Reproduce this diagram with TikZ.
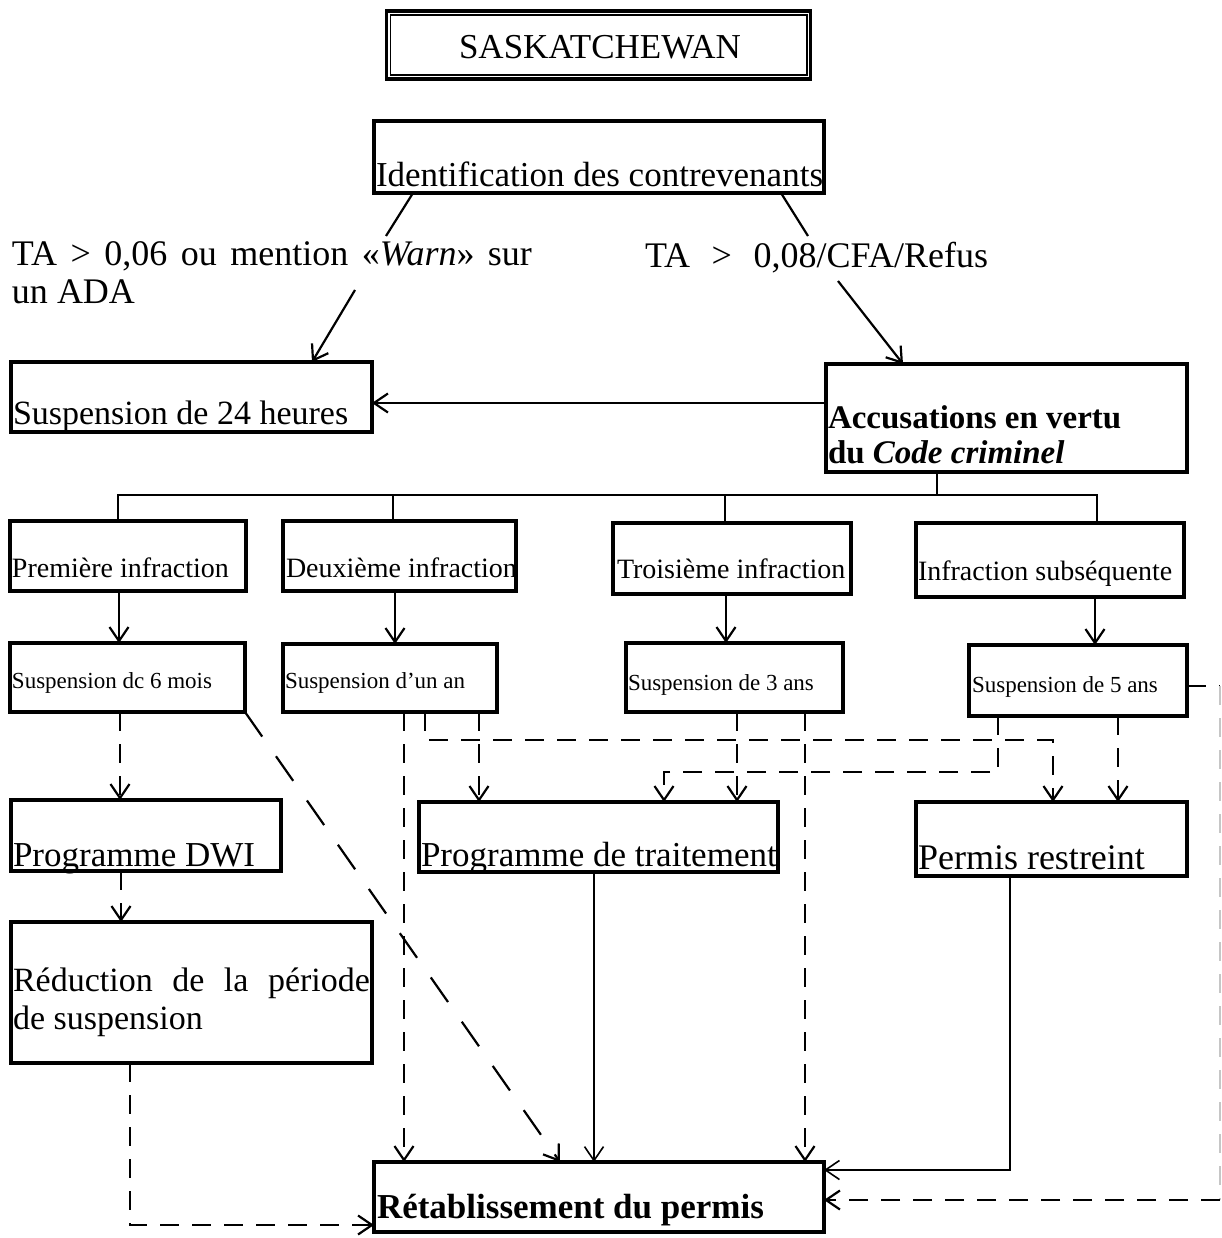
\documentclass[tikz,border=0pt]{standalone}
\usepackage{fontspec}
\setmainfont{Liberation Serif}
\usetikzlibrary{arrows.meta,calc}
\newcommand\sz[1]{\fontsize{#1pt}{#1pt}\selectfont}

\begin{document}
\begin{tikzpicture}[x=1pt,y=-1pt,
  box/.style={draw,line width=3.1pt,anchor=north west,inner sep=0pt,outer sep=0pt},
  txt/.style={anchor=base west,inner sep=0pt,outer sep=0pt},
  con/.style={line width=2.2pt},
  dsh/.style={con,dash pattern=on 19pt off 13pt},
  ldsh/.style={con,dash pattern=on 30pt off 24pt},
  arr/.style={-{Straight Barb[length=14pt,width=19pt]}},
]
\useasboundingbox[fill=white] (0,0) rectangle (1221,1238);

% ---- title with double frame
\node[draw,line width=3.4pt,minimum width=424pt,minimum height=68pt,inner sep=0pt] (title) at (598.5,45) {};
\draw[line width=1.6pt] ([shift={(5.5pt,-5.5pt)}]title.north west) rectangle ([shift={(-5.5pt,5.5pt)}]title.south east);
\node[txt,anchor=base,font=\sz{35}] (titleT) at (600,59) {SASKATCHEWAN};

% ---- boxes
\node[box,minimum width=450pt,minimum height=72pt] (ident) at (374,121) {};
\node[box,minimum width=361pt,minimum height=70pt] (s24) at (11,362) {};
\node[box,minimum width=361pt,minimum height=108pt] (acc) at (826,364) {};
\node[box,minimum width=236pt,minimum height=70pt] (inf1) at (10,521) {};
\node[box,minimum width=233pt,minimum height=70pt] (inf2) at (283,521) {};
\node[box,minimum width=238pt,minimum height=71pt] (inf3) at (613,523) {};
\node[box,minimum width=268pt,minimum height=74pt] (inf4) at (916,523) {};
\node[box,minimum width=235pt,minimum height=69pt] (sus1) at (10,643) {};
\node[box,minimum width=214pt,minimum height=68pt] (sus2) at (283,644) {};
\node[box,minimum width=217pt,minimum height=69pt] (sus3) at (626,643) {};
\node[box,minimum width=218pt,minimum height=71pt] (sus4) at (969,645) {};
\node[box,minimum width=270pt,minimum height=71pt] (dwi) at (11,800) {};
\node[box,minimum width=361pt,minimum height=141pt] (red) at (11,922) {};
\node[box,minimum width=359pt,minimum height=70pt] (trt) at (419,802) {};
\node[box,minimum width=271pt,minimum height=74pt] (prm) at (916,802) {};
\node[box,minimum width=450pt,minimum height=70pt] (ret) at (374,1162) {};

% ---- texts
\node[txt,font=\sz{35}] (identT) at (376,187) {Identification des contrevenants};
\node[txt,font=\sz{36}] (warnA) at (12,266) {\makebox[520pt][s]{TA > 0,06 ou mention «\textit{Warn}» sur}};
\node[txt,font=\sz{36}] (warnB) at (12,303) {un ADA};
\node[txt,font=\sz{36}] (ta8) at (645,268) {\makebox[343pt][s]{TA > 0,08/CFA/Refus}};
\node[txt,font=\sz{34}] (s24T) at (13,424) {Suspension de 24 heures};
\node[txt,font=\bfseries\sz{33}] (accT1) at (828,428) {Accusations en vertu};
\node[txt,font=\bfseries\sz{33}] (accT2) at (828,463) {du \textit{Code criminel}};
\node[txt,font=\sz{28}] (inf1T) at (12,577) {Première infraction};
\node[txt,font=\sz{28}] (inf2T) at (286,577) {Deuxième infraction};
\node[txt,font=\sz{28}] (inf3T) at (617,578) {Troisième infraction};
\node[txt,font=\sz{28}] (inf4T) at (918,580) {Infraction subséquente};
\node[txt,font=\sz{23}] (sus1T) at (12,688) {Suspension dc 6 mois};
\node[txt,font=\sz{23}] (sus2T) at (285,688) {Suspension d’un an};
\node[txt,font=\sz{23}] (sus3T) at (628,690) {Suspension de 3 ans};
\node[txt,font=\sz{23}] (sus4T) at (972,692) {Suspension de 5 ans};
\node[txt,font=\sz{35}] (dwiT) at (13,866) {Programme DWI};
\node[txt,font=\sz{34}] (redT1) at (13,991) {\makebox[357pt][s]{Réduction de la période}};
\node[txt,font=\sz{34}] (redT2) at (13,1029) {de suspension};
\node[txt,font=\sz{35}] (trtT) at (421,866) {Programme de traitement};
\node[txt,font=\sz{36}] (prmT) at (918,869) {Permis restreint};
\node[txt,font=\bfseries\sz{35}] (retT) at (377,1218) {Rétablissement du permis};

% ---- top connectors
\draw[con] ([xshift=39pt]ident.south west) -- ([xshift=374pt,yshift=30pt]warnA.base west);
\draw[con] ([xshift=-43pt]ident.south east) -- ([xshift=163pt,yshift=32pt]ta8.base west);
\draw[con,arr] ([xshift=343pt,yshift=13pt]warnB.base west) -- ([xshift=301pt]s24.north west);
\draw[con,arr] ([xshift=193pt,yshift=-13pt]ta8.base west) -- ([xshift=77pt]acc.north west);
\draw[con,arr] ([yshift=-39pt]acc.north west) -- ([yshift=-41pt]s24.north east);

% ---- branching to the four offences
\coordinate (bus) at ([xshift=111pt,yshift=-23pt]acc.south west);
\coordinate (t1) at ([xshift=108pt]inf1.north west);
\coordinate (t2) at ([xshift=110pt]inf2.north west);
\coordinate (t3) at ([xshift=112pt]inf3.north west);
\coordinate (t4) at ([xshift=181pt]inf4.north west);
\draw[con] ([xshift=111pt]acc.south west) -- (bus);
\draw[con] (t1) -- (t1 |- bus) -- (t4 |- bus) -- (t4);
\draw[con] (t2) -- (t2 |- bus);
\draw[con] (t3) -- (t3 |- bus);

% ---- offence to suspension
\coordinate (a1) at ([xshift=109pt]inf1.south west);
\coordinate (a2) at ([xshift=112pt]inf2.south west);
\coordinate (a3) at ([xshift=113pt]inf3.south west);
\coordinate (a4) at ([xshift=179pt]inf4.south west);
\draw[con,arr] (a1) -- (a1 |- sus1.north);
\draw[con,arr] (a2) -- (a2 |- sus2.north);
\draw[con,arr] (a3) -- (a3 |- sus3.north);
\draw[con,arr] (a4) -- (a4 |- sus4.north);

% ---- dashed paths from the suspensions
\coordinate (p1) at ([xshift=110pt]sus1.south west);
\draw[dsh,arr] (p1) -- (p1 |- dwi.north);
\coordinate (p2) at ([xshift=110pt]dwi.south west);
\draw[dsh,arr] (p2) -- (p2 |- red.north);
\coordinate (p3) at ([xshift=119pt]red.south west);
\coordinate (q3) at ([yshift=7pt]ret.south west);
\draw[dsh,arr] (p3) |- (q3);
\draw[ldsh,arr] (sus1.south east) -- ([xshift=186pt]ret.north west);

\coordinate (p5) at ([xshift=121pt]sus2.south west);
\draw[dsh,arr] (p5) -- (p5 |- ret.north);
\coordinate (p6) at ([xshift=142pt]sus2.south west);
\coordinate (q6) at ([xshift=137pt]prm.north west);
\draw[dsh,arr] (p6) -- ([yshift=-28pt]p6) -| (q6);
\coordinate (p7) at ([xshift=196pt]sus2.south west);
\draw[dsh,arr] (p7) -- (p7 |- trt.north);

\coordinate (p8) at ([xshift=111pt]sus3.south west);
\draw[dsh,arr] (p8) -- (p8 |- trt.north);
\coordinate (p9) at ([xshift=179pt]sus3.south west);
\draw[dsh,arr] (p9) -- (p9 |- ret.north);

\coordinate (p10) at ([xshift=29pt]sus4.south west);
\coordinate (q10) at ([xshift=245pt]trt.north west);
\draw[dsh,arr] (p10) -- ([yshift=-56pt]p10) -| (q10);
\coordinate (p11) at ([xshift=149pt]sus4.south west);
\draw[dsh,arr] (p11) -- (p11 |- prm.north);

\coordinate (p12) at ([yshift=-41pt]sus4.north east);
\coordinate (rim) at (1220,686);
\coordinate (q12) at ([yshift=-38pt]ret.north east);
\draw[dsh] (p12) -- (rim);
\draw[dsh,gray!45] (rim) -- (rim |- q12);
\draw[dsh,arr] (rim |- q12) -- (q12);

% ---- solid paths to the reinstatement
\coordinate (r1) at ([xshift=175pt]trt.south west);
\draw[con,line width=1.6pt,arr] (r1) -- (r1 |- ret.north);
\coordinate (r2) at ([xshift=94pt]prm.south west);
\coordinate (q13) at ([yshift=-8pt]ret.north east);
\draw[con,line width=1.6pt,arr] (r2) |- (q13);
\end{tikzpicture}
\end{document}
